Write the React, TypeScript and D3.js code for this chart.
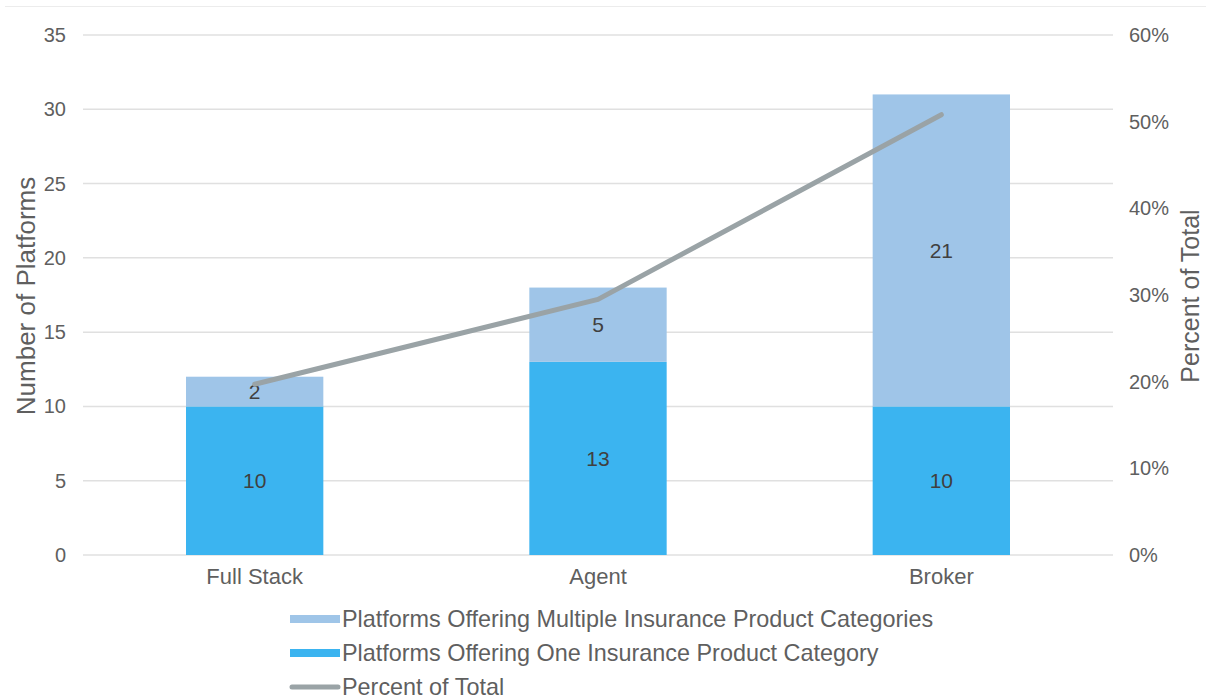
import React from "react";
import * as d3 from "d3";

const categories = ["Full Stack", "Agent", "Broker"];
const oneCategory = [10, 13, 10];
const multipleCategories = [2, 5, 21];
const percentOfTotal = [0.197, 0.295, 0.508];
const leftTicks = [0, 5, 10, 15, 20, 25, 30, 35];
const rightTicks = [0, 0.1, 0.2, 0.3, 0.4, 0.5, 0.6];
const legendLabels = [
  "Platforms Offering Multiple Insurance Product Categories",
  "Platforms Offering One Insurance Product Category",
  "Percent of Total",
];

const W = 1206;
const H = 700;
const left = 83;
const right = 1113;
const top = 35;
const bottom = 555;
const C_LIGHT = "#9fc5e8";
const C_BLUE = "#3bb4f0";
const C_LINE = "#9aa3a6";
const TXT = "#5f5f5f";
const FONT = "'Liberation Sans', Arial, sans-serif";

export default function App() {
  const x = d3.scaleBand<string>().domain(categories).range([left, right]).padding(0);
  const y = d3.scaleLinear().domain([0, 35]).range([bottom, top]);
  const y2 = d3.scaleLinear().domain([0, 0.6]).range([bottom, top]);
  const bw = x.bandwidth() * 0.4;
  const cx = (c: string) => (x(c) as number) + x.bandwidth() / 2;
  const line = d3
    .line<number>()
    .x((_, i) => cx(categories[i]))
    .y((d) => y2(d));

  return (
    <svg width={W} height={H} style={{ display: "block", position: "absolute", left: 0, top: 0 }} fontFamily={FONT}>
      <rect x={0} y={0} width={W} height={H} fill="#fff" />
      <line x1={5} x2={W} y1={6.5} y2={6.5} stroke="#ececec" strokeWidth={1} />
      {leftTicks.map((t) => (
        <g key={t}>
          <line x1={left} x2={right} y1={y(t)} y2={y(t)} stroke="#e0e0e0" strokeWidth={1.5} />
          <text x={66} y={y(t)} dy="0.35em" textAnchor="end" fontSize={20} fill={TXT}>
            {t}
          </text>
        </g>
      ))}
      {rightTicks.map((t) => (
        <text key={t} x={1129} y={y2(t)} dy="0.35em" textAnchor="start" fontSize={20} fill={TXT}>
          {d3.format(".0%")(t)}
        </text>
      ))}
      <text transform={`translate(35,296) rotate(-90)`} textAnchor="middle" fontSize={26} fill={TXT}>
        Number of Platforms
      </text>
      <text transform={`translate(1199,296) rotate(-90)`} textAnchor="middle" fontSize={25} fill={TXT}>
        Percent of Total
      </text>
      {categories.map((c, i) => {
        const x0 = cx(c) - bw / 2;
        const one = oneCategory[i];
        const mul = multipleCategories[i];
        return (
          <g key={c}>
            <rect x={x0} y={y(one)} width={bw} height={y(0) - y(one)} fill={C_BLUE} />
            <rect x={x0} y={y(one + mul)} width={bw} height={y(one) - y(one + mul)} fill={C_LIGHT} />
            <text x={cx(c)} y={(y(0) + y(one)) / 2} dy="0.35em" textAnchor="middle" fontSize={21} fill="#404040">
              {one}
            </text>
            <text x={cx(c)} y={(y(one) + y(one + mul)) / 2} dy="0.35em" textAnchor="middle" fontSize={21} fill="#404040">
              {mul}
            </text>
            <text x={cx(c)} y={576} dy="0.35em" textAnchor="middle" fontSize={22} fill={TXT}>
              {c}
            </text>
          </g>
        );
      })}
      <path d={line(percentOfTotal) || ""} fill="none" stroke={C_LINE} strokeWidth={5} strokeLinecap="round" strokeLinejoin="round" />
      {legendLabels.map((l, i) => {
        const ly = 619 + i * 34;
        return (
          <g key={l}>
            {i < 2 ? (
              <rect x={290} y={ly - 4} width={50} height={8} fill={i === 0 ? C_LIGHT : C_BLUE} />
            ) : (
              <line x1={292} x2={338} y1={ly} y2={ly} stroke={C_LINE} strokeWidth={5} strokeLinecap="round" />
            )}
            <text x={342} y={ly} dy="0.35em" fontSize={23.4} fill={TXT}>
              {l}
            </text>
          </g>
        );
      })}
    </svg>
  );
}
